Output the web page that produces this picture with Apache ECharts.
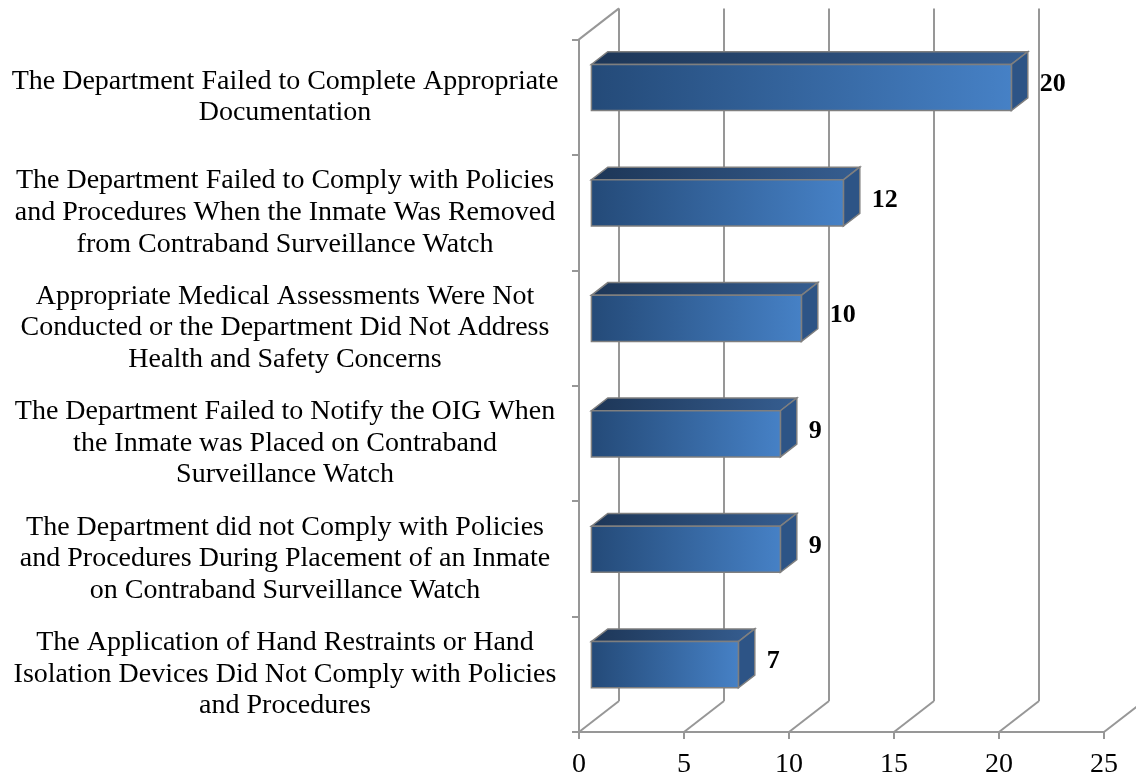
<!DOCTYPE html>
<html>
<head>
<meta charset="utf-8">
<script src="https://cdn.jsdelivr.net/npm/echarts/dist/echarts.min.js"></script>
<style>
    html, body { margin: 0; padding: 0; background: #fff; }
    #chart { width: 1136px; height: 779px; }
</style>
</head>
<body>
<div id="chart"></div>
<script>
// categories top to bottom
const categories = [
    'The Department Failed to Complete Appropriate\nDocumentation',
    'The Department Failed to Comply with Policies\nand Procedures When the Inmate Was Removed\nfrom Contraband Surveillance Watch',
    'Appropriate Medical Assessments Were Not\nConducted or the Department Did Not Address\nHealth and Safety Concerns',
    'The Department Failed to Notify the OIG When\nthe Inmate was Placed on Contraband\nSurveillance Watch',
    'The Department did not Comply with Policies\nand Procedures During Placement of an Inmate\non Contraband Surveillance Watch',
    'The Application of Hand Restraints or Hand\nIsolation Devices Did Not Comply with Policies\nand Procedures'
]
const counts = [20, 12, 10, 9, 9, 7]
const xTicks = [0, 5, 10, 15, 20, 25]

// fake 3d look
const DX = 40
const DY = -31
const barFront = 0.31
const barBack = 0.72
const barRatio = 0.40
const gridColor = '#979797'
const serif = '"Liberation Serif", "Times New Roman", serif'

const chart = echarts.init(document.getElementById('chart'))

function renderFrame(params, api) {
    const v = api.value(0)
    const cs = params.coordSys
    const x = api.coord([v, 0])[0]
    const top = cs.y
    const bottom = cs.y + cs.height
    const lineStyle = { stroke: gridColor, lineWidth: 2 }
    const children = [{
        type: 'line',
        shape: { x1: x, y1: bottom, x2: x + DX, y2: bottom + DY },
        style: lineStyle
    }]
    if (v < xTicks[xTicks.length - 1]) {
        children.push({
            type: 'line',
            shape: { x1: x + DX, y1: bottom + DY, x2: x + DX, y2: top + DY },
            style: lineStyle
        })
    }
    if (v === 0) {
        children.push({
            type: 'line',
            shape: { x1: x, y1: top, x2: x + DX, y2: top + DY },
            style: lineStyle
        })
    }
    return { type: 'group', children: children }
}

function renderBar(params, api) {
    const v = api.value(0)
    const i = api.value(1)
    const c0 = api.coord([0, i])
    const c1 = api.coord([v, i])
    const band = api.size([0, 1])[1]
    const h = band * barRatio
    const ox = DX * barFront
    const oy = DY * barFront
    const dx = DX * (barBack - barFront)
    const dy = DY * (barBack - barFront)
    const x0 = c0[0] + ox
    const x1 = c1[0] + ox
    const yc = c0[1] + oy
    const y0 = yc - h / 2
    const y1 = yc + h / 2
    const edge = { stroke: '#7f7f7f', lineWidth: 1.5 }
    return {
        type: 'group',
        children: [
            {
                type: 'polygon',
                shape: { points: [[x0, y0], [x1, y0], [x1 + dx, y0 + dy], [x0 + dx, y0 + dy]] },
                style: Object.assign({
                    fill: new echarts.graphic.LinearGradient(0, 0, 1, 0, [
                        { offset: 0, color: '#1d3657' },
                        { offset: 1, color: '#365e91' }
                    ])
                }, edge)
            },
            {
                type: 'polygon',
                shape: { points: [[x1, y0], [x1 + dx, y0 + dy], [x1 + dx, y1 + dy], [x1, y1]] },
                style: Object.assign({ fill: '#2d5486' }, edge)
            },
            {
                type: 'rect',
                shape: { x: x0, y: y0, width: x1 - x0, height: h },
                style: Object.assign({
                    fill: new echarts.graphic.LinearGradient(0, 0, 1, 0, [
                        { offset: 0, color: '#244a78' },
                        { offset: 1, color: '#4681c6' }
                    ])
                }, edge)
            },
            {
                type: 'text',
                style: {
                    text: String(v),
                    x: x1 + dx + 12,
                    y: yc - 3,
                    fill: '#000',
                    font: 'bold 26px ' + serif,
                    align: 'left',
                    verticalAlign: 'middle'
                }
            }
        ]
    }
}

const option = {
    animation: false,
    backgroundColor: '#fff',
    grid: {
        left: 579,
        right: 32,
        top: 39.4,
        bottom: 45.5
    },
    xAxis: {
        type: 'value',
        min: 0,
        max: 25,
        interval: 5,
        axisLine: { show: true, lineStyle: { color: gridColor, width: 2 } },
        axisTick: { show: true, length: 7, lineStyle: { color: gridColor, width: 2 } },
        splitLine: { show: false },
        axisLabel: {
            margin: 19,
            color: '#000',
            fontSize: 28,
            fontFamily: serif,
            formatter: (val) => xTicks.indexOf(val) > -1 ? String(val) : ''
        }
    },
    yAxis: {
        type: 'category',
        inverse: true,
        data: categories,
        axisLine: { show: true, lineStyle: { color: gridColor, width: 2 } },
        axisTick: { show: true, length: 7, lineStyle: { color: gridColor, width: 2 } },
        splitLine: { show: false },
        axisLabel: {
            align: 'center',
            margin: 294,
            color: '#000',
            fontSize: 28,
            lineHeight: 31.7,
            padding: [6, 0, 0, 0],
            fontFamily: serif,
            interval: 0
        }
    },
    series: [
        {
            type: 'custom',
            name: 'frame',
            silent: true,
            renderItem: renderFrame,
            encode: { x: 0, y: 1 },
            data: xTicks.map(v => [v, 0]),
            z: 1
        },
        {
            type: 'custom',
            name: 'counts',
            renderItem: renderBar,
            encode: { x: 0, y: 1 },
            data: counts.map((v, i) => [v, i]),
            z: 2
        }
    ]
}

chart.setOption(option)
</script>
</body>
</html>
